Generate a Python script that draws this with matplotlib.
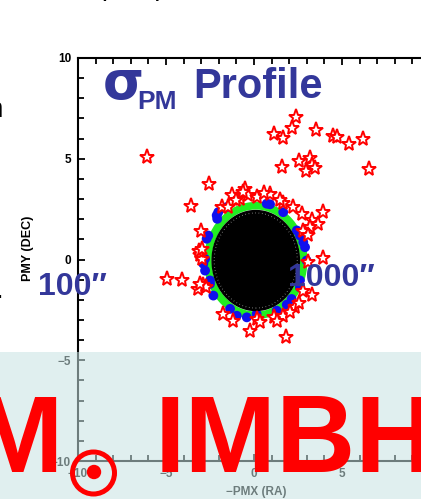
import matplotlib
matplotlib.use("Agg")
from matplotlib import pyplot
from matplotlib.patches import Circle, Rectangle

W, H = 421, 499

# proper-motion space, mas/yr
star_x = [2.37, 2.18, 1.14, 1.63, 3.52, 4.51, 4.73, 5.41, 6.18, -6.06, 6.55, 1.61,
          2.56, 3.18, 3.28, 3.48, 2.95, -2.57, -3.58, -0.51, -1.27, -0.80, -0.32, 0.15,
          0.91, 1.66, 2.23, 3.94, -1.84, 2.71, 3.28, 3.65, 3.18, 2.80, -3.01, -3.07,
          -2.97, 3.90, 3.09, -4.96, -4.11, -2.88, -3.16, -2.73, 2.80, 3.28, 2.33, -1.78,
          -1.21, 0.15, 0.34, 1.14, 1.66, 2.05, 1.29, -0.23, 1.82, -1.48, -3.10, -2.95,
          -0.60, 0.55, -1.00, 1.45, 3.05, -3.05, 2.55]
star_y = [7.05, 6.55, 6.25, 6.05, 6.45, 6.12, 6.08, 5.71, 6.00, 5.09, 4.48, 4.61,
          4.88, 5.06, 4.68, 4.53, 4.39, 3.73, 2.64, 3.52, 3.18, 3.02, 3.18, 3.10,
          3.23, 2.79, 2.59, 2.35, 2.60, 2.27, 1.94, 1.78, 1.61, 1.39, 1.41, 0.20,
          0.03, 0.05, -0.13, -0.96, -1.02, -1.29, -1.46, -1.38, -1.54, -1.74, -2.34, -2.70,
          -3.03, -2.95, -3.12, -2.84, -2.79, -2.62, -3.03, -3.53, -3.86, 2.59, 0.40, 0.50,
          3.35, 3.30, 2.95, 2.95, 1.20, -1.20, -2.15]

blue_x = [-2.03, -2.09, -1.55, 0.72, 0.91, 1.66, 2.43, 2.61, 2.80, 2.90, 2.99, 2.61,
          2.14, 1.86, 1.29, 0.15, -0.41, -0.98, -1.36, -2.31, -2.50, -2.78, -2.88, -2.78,
          -2.69, -2.60, -2.50, -2.12, 2.61, 2.80]
blue_y = [2.35, 2.02, 2.60, 2.77, 2.74, 2.35, 1.44, 1.19, 0.86, 0.61, -0.05, -1.38,
          -1.96, -2.24, -2.54, -2.70, -2.87, -2.79, -2.45, -1.79, -1.21, -0.55, -0.21, 0.03,
          1.03, 1.19, -1.04, 2.19, -1.04, 1.28]

core_center = (0.1, -0.05)
core_radius = 2.48
ring_radius = 2.72

ticks = [-10, -5, 0, 5, 10]
blue = "#33379a"
sans = ["Liberation Sans", "DejaVu Sans"]


def px(x, y):
    return x / W, 1 - y / H


fig = pyplot.figure(figsize=(W / 100, H / 100), dpi=100)
ax = fig.add_axes([78 / W, 1 - 461 / H, 352 / W, 403 / H])
ax.set_xlim(-10, 10)
ax.set_ylim(-10, 10)

ax.add_patch(Circle(core_center, ring_radius, facecolor="none", edgecolor="#22ee22", lw=5.5, zorder=2))
ax.add_patch(Circle(core_center, core_radius, facecolor="black", edgecolor="black", lw=1, zorder=3))
ax.add_patch(Circle(core_center, core_radius - 0.12, facecolor="none", edgecolor="white",
                    lw=0.8, ls=(0, (0.5, 2.5)), alpha=0.7, zorder=3))
ax.scatter(blue_x, blue_y, s=50, color="#1010ee", edgecolors="none", zorder=2.5)
ax.plot(star_x, star_y, ls="none", marker="*", ms=11, mfc="white", mec="red", mew=1.4, zorder=4)

ax.set_xticks(ticks)
ax.set_yticks(ticks)
ax.set_xticks(range(-10, 11), minor=True)
ax.set_yticks(range(-10, 11), minor=True)
ax.tick_params(which="both", direction="in", top=True, right=True, width=1.3)
ax.tick_params(which="major", length=5, labelsize=8.5, pad=5)
ax.tick_params(which="minor", length=4)
for lab in ax.get_xticklabels() + ax.get_yticklabels():
    lab.set_fontweight("bold")
    lab.set_family(sans)
for s in ax.spines.values():
    s.set_linewidth(1.5)

fig.text(*px(28, 248), "PMY (DEC)", rotation=90, ha="center", va="center",
         fontsize=9, fontweight="bold", family=sans)
fig.text(*px(256, 492), "\u2212PMX (RA)", ha="center", va="center",
         fontsize=8.5, fontweight="bold", family=sans)

# title with subscript
fig.text(*px(103, 99), "\u03c3", fontsize=38, fontweight="bold", color=blue, family=["DejaVu Sans"])
fig.text(*px(137, 109), "PM", fontsize=19, fontweight="bold", color=blue, family=sans)
fig.text(*px(193, 98), "Profile", fontsize=30, fontweight="bold", color=blue, family=sans)

fig.text(*px(38, 295), "100\u2033", fontsize=23, fontweight="bold", color=blue, family=sans)
fig.text(*px(288, 286), "1000\u2033", fontsize=23, fontweight="bold", color=blue, family=sans)

# cut-off slide text around the plot
fig.text(*px(-6, -5), "tion of equal-period stars", fontsize=20, color="black", family=sans)
fig.text(*px(-13, 117), "n", fontsize=20, color="black", family=sans)
fig.text(*px(-4, 298), ".", fontsize=20, color="black", family=sans)

# translucent band over the lower part
band = Rectangle((0, 0), 1, 1 - 352 / H, transform=fig.transFigure,
                 facecolor=(0.78, 0.89, 0.89), edgecolor="none", alpha=0.55, zorder=5)
fig.patches.append(band)

fig.text(*px(63, 472), "M", ha="right", fontsize=79, fontweight="bold", color="red",
         family=sans, zorder=6)
fig.text(*px(155, 472), "IMBH", ha="left", fontsize=79, fontweight="bold", color="red",
         family=sans, zorder=6)
ring = Circle((0.935, (H - 473) / 100), 0.21, transform=fig.dpi_scale_trans,
              facecolor="none", edgecolor="red", lw=3.6, zorder=6)
dot = Circle((0.94, (H - 472) / 100), 0.072, transform=fig.dpi_scale_trans,
             facecolor="red", edgecolor="none", zorder=6)
fig.patches.extend([ring, dot])

pyplot.savefig("out.png", dpi=100)
